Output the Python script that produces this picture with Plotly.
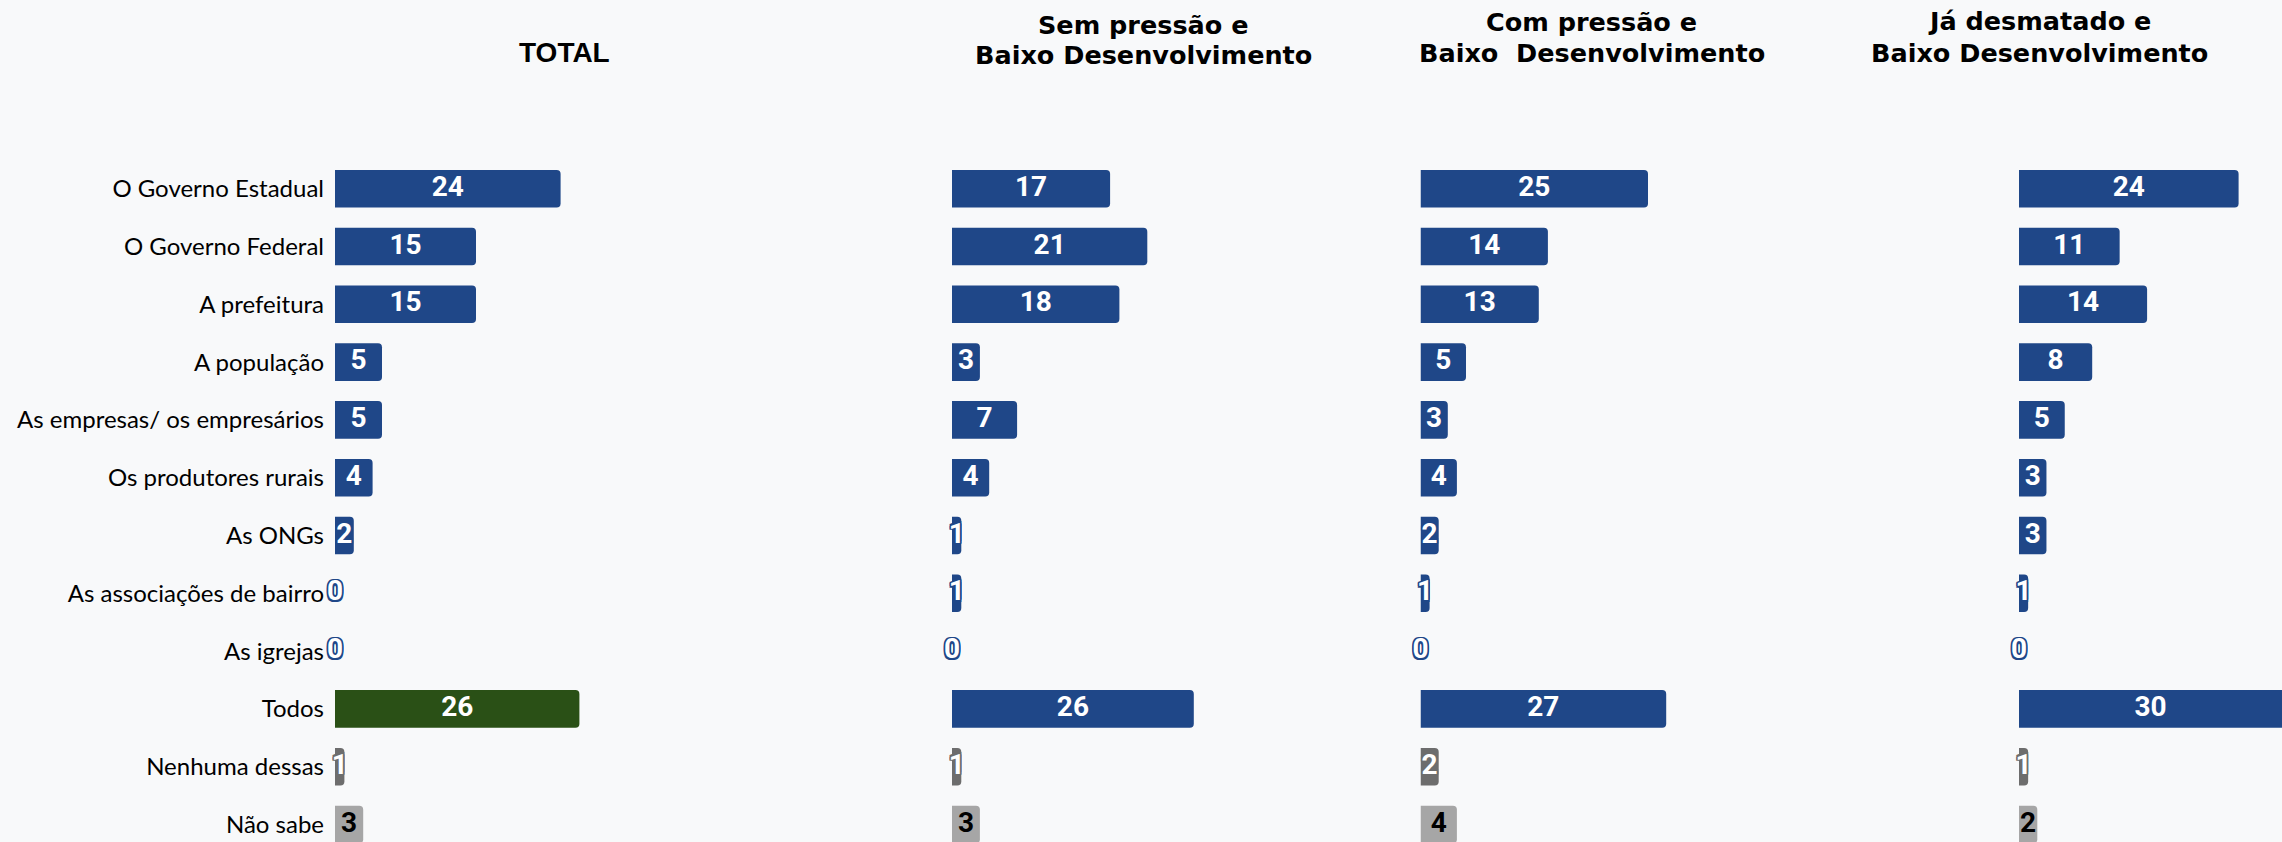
import plotly.graph_objects as go

W, H = 2282, 842

categories = [
    "O Governo Estadual", "O Governo Federal", "A prefeitura", "A população",
    "As empresas/ os empresários", "Os produtores rurais", "As ONGs",
    "As associações de bairro", "As igrejas", "Todos", "Nenhuma dessas", "Não sabe",
]

panel_titles = [
    ["TOTAL"],
    ["Sem pressão e", "Baixo Desenvolvimento"],
    ["Com pressão e", "Baixo  Desenvolvimento"],
    ["Já desmatado e", "Baixo Desenvolvimento"],
]

total = [24, 15, 15, 5, 5, 4, 2, 0, 0, 26, 1, 3]
sem_pressao = [17, 21, 18, 3, 7, 4, 1, 1, 0, 26, 1, 3]
com_pressao = [25, 14, 13, 5, 3, 4, 2, 1, 0, 27, 2, 4]
ja_desmatado = [24, 11, 14, 8, 5, 3, 3, 1, 0, 30, 1, 2]

series = [total, sem_pressao, com_pressao, ja_desmatado]

BLUE = "#1F4788"
GREEN = "#2A5016"
DGRAY = "#6D6D6D"
LGRAY = "#A6A6A6"

# layout geometry (pixels)
px_per_unit = [9.4, 9.3, 9.1, 9.15]
bases = [335, 952, 1420.5, 2019]
title_x = [564, 1143, 1591.5, 2039.5]
title_y = [[52.5], [24.5, 55.5], [21.5, 52.5], [21, 53]]
row0_y, row_step = 188.7, 57.8


def row_colors(panel):
    cols = [BLUE] * 9
    cols.append(GREEN if panel == 0 else BLUE)
    cols += [DGRAY, LGRAY]
    return cols


def outline(c, w=1.5):
    offs = [(-w, -w), (w, -w), (-w, w), (w, w), (0, w), (0, -w), (w, 0), (-w, 0)]
    return ", ".join(f"{dx}px {dy}px 0 {c}" for dx, dy in offs)


fig = go.Figure()
layout_axes = {}
for p, vals in enumerate(series):
    xa = "x" if p == 0 else f"x{p + 1}"
    lay = "xaxis" if p == 0 else f"xaxis{p + 1}"
    start = bases[p]
    end = min(start + 30 * px_per_unit[p], W)
    xmax = (end - start) / px_per_unit[p]
    layout_axes[lay] = dict(
        domain=[start / W, end / W], range=[0, xmax], visible=False,
        showgrid=False, zeroline=False, fixedrange=True,
    )
    cols = row_colors(p)
    fig.add_trace(go.Bar(
        x=vals, y=categories, orientation="h", xaxis=xa, yaxis="y",
        marker=dict(color=cols, cornerradius=4, line=dict(width=0)),
        width=0.65, showlegend=False, hoverinfo="skip",
    ))
    for i, (cat, v) in enumerate(zip(categories, vals)):
        if i == 11:
            tcol, ocol = "#000000", LGRAY
        elif i == 10:
            tcol, ocol = "#FFFFFF", DGRAY
        else:
            tcol, ocol = "#FFFFFF", cols[i]
        fig.add_trace(go.Scatter(
            x=[min(v, xmax) / 2], y=[cat], mode="text", text=[str(v)],
            textposition="middle center", xaxis=xa, yaxis="y",
            textfont=dict(family="Roboto", size=28, weight="bold", color=tcol,
                          shadow=outline(ocol)),
            cliponaxis=False, showlegend=False, hoverinfo="skip",
        ))

annotations = []
for p, lines in enumerate(panel_titles):
    for j, line in enumerate(lines):
        if p == 0:
            fnt = dict(family="Liberation Sans", size=28, color="#000000", weight="bold")
        else:
            fnt = dict(family="DejaVu Sans", size=25.5, color="#000000", weight="bold")
        annotations.append(dict(
            x=title_x[p] / W, y=1 - title_y[p][j] / H, xref="paper", yref="paper",
            text=line, showarrow=False, xanchor="center", yanchor="middle", font=fnt,
        ))

y_top = -row0_y / row_step
y_bottom = y_top + H / row_step

fig.update_layout(
    width=W, height=H,
    margin=dict(l=0, r=0, t=0, b=0),
    paper_bgcolor="#F8F9FA", plot_bgcolor="rgba(0,0,0,0)",
    barmode="overlay",
    yaxis=dict(
        domain=[0, 1], type="category", categoryorder="array", categoryarray=categories,
        range=[y_bottom, y_top], showgrid=False, zeroline=False, showline=False,
        ticks="", ticklabelstandoff=10,
        tickfont=dict(family="Lato", size=24, color="#000000"), fixedrange=True,
    ),
    annotations=annotations,
    **layout_axes,
)

fig.write_html(
    "out.html",
    config={"displayModeBar": False},
    post_script="document.body.style.margin='0px';document.body.style.overflow='hidden';",
)
